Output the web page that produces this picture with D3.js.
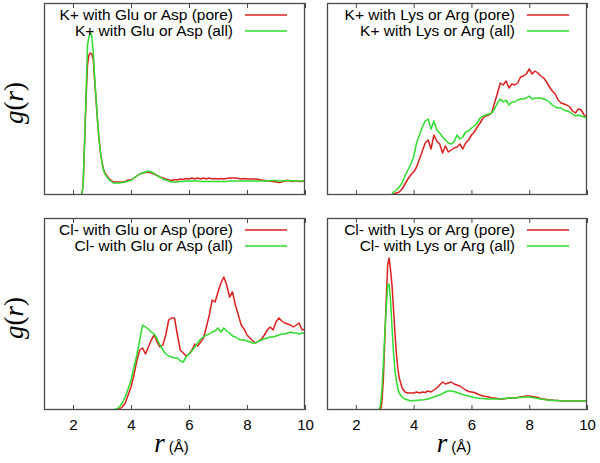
<!DOCTYPE html>
<html><head><meta charset="utf-8">
<script src="https://cdn.jsdelivr.net/npm/d3@7/dist/d3.min.js"></script>
<style>body{margin:0;background:#fff}</style>
</head><body>
<svg id="chart" width="600" height="463"></svg>
<script>
// shared r grid (Å)
const r = [1.0,
  2.3,2.35,2.4,2.45,2.5,2.55,2.6,2.65,2.7,2.75,2.8,2.85,2.9,2.95,3.0,3.05,3.1,3.15,3.2,3.25,3.3,3.35,3.4,3.45,3.5,
  3.6,3.7,3.8,3.9,4.0,4.1,4.2,4.3,4.4,4.5,
  4.6,4.7,4.8,4.9,5.0,5.1,5.2,5.3,5.4,5.5,
  5.6,5.7,5.8,5.9,6.0,6.1,6.2,6.3,6.4,6.5,
  6.6,6.7,6.8,6.9,7.0,7.1,7.2,7.3,7.4,7.5,
  7.6,7.7,7.8,7.9,8.0,8.1,8.2,8.3,8.4,8.5,
  8.6,8.7,8.8,8.9,9.0,9.1,9.2,9.3,9.4,9.5,
  9.6,9.7,9.8,9.9,10.0];

// K+ with Glu or Asp
const kGluPore = [0,
  0,1.0,5.3,9.5,13.0,14.0,14.2,14.1,13.5,11.3,9.3,7.2,5.5,4.2,3.3,2.6,2.2,2.0,1.8,1.6,1.5,1.4,1.3,1.3,1.3,
  1.3,1.3,1.35,1.5,1.5,1.7,1.9,2.1,2.2,2.25,
  2.3,2.2,2.1,1.95,1.8,1.7,1.6,1.5,1.45,1.55,
  1.5,1.6,1.55,1.65,1.6,1.7,1.6,1.7,1.6,1.7,
  1.6,1.7,1.6,1.65,1.6,1.65,1.6,1.65,1.7,1.7,
  1.7,1.65,1.6,1.65,1.6,1.6,1.6,1.6,1.55,1.5,
  1.45,1.4,1.4,1.35,1.3,1.25,1.3,1.4,1.45,1.4,
  1.35,1.4,1.35,1.35,1.4];
const kGluAll = [0,
  0,1.0,5.5,10.0,15.0,15.8,16.2,15.9,14.2,11.6,9.5,7.3,5.6,4.2,3.2,2.5,2.1,1.9,1.7,1.5,1.4,1.3,1.2,1.2,1.2,
  1.2,1.25,1.3,1.4,1.45,1.7,1.9,2.1,2.2,2.3,
  2.4,2.3,2.15,1.95,1.8,1.6,1.5,1.4,1.3,1.3,
  1.3,1.35,1.35,1.4,1.4,1.4,1.4,1.4,1.35,1.35,
  1.35,1.35,1.35,1.35,1.35,1.35,1.35,1.35,1.4,1.4,
  1.4,1.4,1.4,1.4,1.4,1.4,1.4,1.4,1.4,1.4,
  1.4,1.4,1.45,1.45,1.45,1.4,1.4,1.45,1.45,1.45,
  1.4,1.4,1.4,1.4,1.4];

// K+ with Lys or Arg
const kLysPore = [0,
  0,0,0,0,0,0,0,0,0,0,0,0,0,0,0,0,0,0,0,0,0.1,0.15,0.2,0.25,0.3,
  0.6,1.1,1.6,2.0,2.3,2.8,3.6,4.4,5.2,5.5,
  4.6,6.0,5.4,5.1,4.2,4.9,4.3,4.5,4.7,4.8,
  5.1,4.6,5.2,5.5,6.0,6.3,6.8,7.2,7.7,7.9,
  8.0,8.2,9.2,10.2,11.2,11.0,11.4,10.7,11.1,11.0,
  11.2,11.8,11.9,12.1,12.6,12.1,12.4,12.2,11.9,11.7,
  11.3,10.8,10.4,10.1,9.5,9.2,9.1,9.0,8.8,8.4,
  8.2,8.6,8.5,8.0,7.8];
const kLysAll = [0,
  0,0,0,0,0,0,0,0,0,0,0,0,0,0,0,0,0,0,0,0.05,0.3,0.4,0.5,0.65,0.8,
  1.2,1.9,2.5,3.1,3.8,5.2,6.0,6.8,7.4,7.6,
  6.6,7.4,6.5,6.2,5.8,5.5,5.2,5.1,5.3,6.0,
  5.6,5.8,6.3,6.4,6.7,6.9,7.2,7.7,7.9,8.0,
  8.1,8.2,8.6,9.2,9.6,9.3,9.5,9.0,9.3,9.3,
  9.5,9.6,9.6,9.7,9.9,9.6,9.7,9.7,9.7,9.6,
  9.5,9.3,9.0,8.8,8.7,8.7,8.5,8.4,8.3,8.1,
  7.9,8.0,7.9,7.8,7.7];

// Cl- with Glu or Asp
const clGluPore = [0,
  0,0,0,0,0,0,0,0,0,0,0,0,0,0,0,0,0,0,0,0,0,0,0,0.02,0.05,
  0.1,0.3,0.7,1.5,2.3,3.5,4.9,6.0,6.2,5.6,
  6.3,7.0,7.5,6.8,6.3,6.5,7.5,9.0,9.2,9.2,
  7.5,6.0,5.7,5.4,5.6,6.0,6.6,6.4,6.8,7.2,
  8.3,9.5,11.0,10.8,11.8,12.7,13.3,12.5,11.3,11.8,
  10.5,9.5,8.5,8.1,7.5,7.2,6.9,6.7,6.9,7.1,
  7.5,8.0,8.3,8.0,8.8,9.2,8.9,8.7,8.6,8.5,
  8.3,8.5,8.7,8.0,8.1];
const clGluAll = [0,
  0,0,0,0,0,0,0,0,0,0,0,0,0,0,0,0,0,0,0,0,0,0.03,0.05,0.08,0.1,
  0.3,0.7,1.3,2.1,3.0,4.2,5.5,7.0,8.5,8.3,
  8.1,7.8,7.6,7.1,6.5,6.0,5.6,5.4,5.3,5.2,
  5.2,4.9,4.8,5.3,5.6,5.9,6.3,6.7,7.1,7.3,
  7.5,7.6,7.8,7.9,8.2,7.8,8.2,7.9,7.7,7.4,
  7.3,7.1,7.0,7.0,6.9,6.8,6.7,6.7,6.9,7.0,
  7.1,7.2,7.3,7.3,7.4,7.5,7.6,7.6,7.7,7.8,
  7.7,7.7,7.6,7.7,7.7];

// Cl- with Lys or Arg
const clLysPore = [0,
  0,0,0,0,0,0,0,0,0,0,0,0,0.8,3.0,7.0,11.0,14.5,15.2,14.0,12.5,10.2,7.8,5.7,4.2,3.2,
  2.2,1.8,1.7,1.7,1.7,1.8,1.7,1.8,1.75,1.9,
  1.8,2.0,2.2,2.5,2.8,2.6,2.7,2.8,2.6,2.5,
  2.4,2.2,2.0,1.85,1.8,1.75,1.6,1.5,1.4,1.35,
  1.3,1.2,1.2,1.15,1.1,1.1,1.15,1.2,1.2,1.2,
  1.25,1.3,1.35,1.4,1.4,1.35,1.3,1.25,1.15,1.1,
  1.05,1.0,1.0,0.95,0.95,0.9,0.9,0.9,0.9,0.9,
  0.9,0.9,0.9,0.9,0.9];
const clLysAll = [0,
  0,0,0,0,0,0,0,0,0,0,0,0.5,2.0,4.6,7.5,10.2,12.5,12.6,11.0,8.3,5.8,4.0,3.0,2.2,1.7,
  1.3,1.1,1.0,0.9,0.95,0.95,1.0,1.0,1.05,1.1,
  1.2,1.3,1.4,1.5,1.65,1.8,1.9,1.9,1.85,1.75,
  1.65,1.55,1.45,1.4,1.3,1.25,1.2,1.15,1.15,1.1,
  1.1,1.1,1.1,1.1,1.1,1.15,1.15,1.2,1.2,1.2,
  1.25,1.25,1.3,1.3,1.3,1.25,1.2,1.15,1.1,1.05,
  1.0,1.0,0.95,0.95,0.95,0.9,0.9,0.9,0.9,0.9,
  0.9,0.9,0.9,0.9,0.9];

const xTicks = [2, 4, 6, 8, 10];
const xDomain = [1, 10];
const yDomain = [0, 19.2];
const legendTL = ["K+ with Glu or Asp (pore)", "K+ with Glu or Asp (all)"];
const legendTR = ["K+ with Lys or Arg (pore)", "K+ with Lys or Arg (all)"];
const legendBL = ["Cl- with Glu or Asp (pore)", "Cl- with Glu or Asp (all)"];
const legendBR = ["Cl- with Lys or Arg (pore)", "Cl- with Lys or Arg (all)"];

const RED = "#dc2020", GREEN = "#2fdc2f", FRAME = "#4a4a4a";

const panels = [
  {x0: 44, x1: 305, y0: 3, y1: 195, pore: kGluPore, all: kGluAll, legend: legendTL, yLab: true, xLab: false},
  {x0: 327, x1: 587, y0: 3, y1: 195, pore: kLysPore, all: kLysAll, legend: legendTR, yLab: false, xLab: false},
  {x0: 44, x1: 305, y0: 218, y1: 410, pore: clGluPore, all: clGluAll, legend: legendBL, yLab: true, xLab: true},
  {x0: 327, x1: 587, y0: 218, y1: 410, pore: clLysPore, all: clLysAll, legend: legendBR, yLab: false, xLab: true}
];

const svg = d3.select("#chart");
const SANS = "'Liberation Sans', Arial, Helvetica, sans-serif";
const SERIF = "'Liberation Serif', 'Times New Roman', serif";

panels.forEach((p, i) => {
  const x = d3.scaleLinear().domain(xDomain).range([p.x0, p.x1]);
  const y = d3.scaleLinear().domain(yDomain).range([p.y1, p.y0]);

  const clipId = "clip" + i;
  svg.append("clipPath").attr("id", clipId).append("rect")
    .attr("x", p.x0).attr("y", p.y0).attr("width", p.x1 - p.x0).attr("height", p.y1 - p.y0);

  const line = d3.line().x((d, k) => x(r[k])).y(d => y(d));
  const g = svg.append("g").attr("clip-path", `url(#${clipId})`);
  g.append("path").datum(p.pore).attr("d", line).attr("fill", "none")
    .attr("stroke", RED).attr("stroke-width", 1.5).attr("stroke-linejoin", "round");
  g.append("path").datum(p.all).attr("d", line).attr("fill", "none")
    .attr("stroke", GREEN).attr("stroke-width", 1.5).attr("stroke-linejoin", "round");

  // bottom axis
  const bottom = svg.append("g").attr("transform", `translate(0,${p.y1})`)
    .call(d3.axisBottom(x).tickValues(xTicks).tickSizeInner(-5).tickSizeOuter(0).tickPadding(9)
      .tickFormat(p.xLab ? d3.format("d") : () => ""));
  bottom.select(".domain").remove();
  bottom.selectAll(".tick line").attr("stroke", FRAME);
  bottom.selectAll(".tick text").attr("font-family", SANS).attr("font-size", 15).attr("fill", "#000");
  // top axis (mirrored ticks)
  const top = svg.append("g").attr("transform", `translate(0,${p.y0})`)
    .call(d3.axisTop(x).tickValues(xTicks).tickSizeInner(-5).tickSizeOuter(0).tickFormat(() => ""));
  top.select(".domain").remove();
  top.selectAll(".tick line").attr("stroke", FRAME);

  // frame
  svg.append("rect").attr("x", p.x0 + 0.5).attr("y", p.y0 + 0.5)
    .attr("width", p.x1 - p.x0 - 1).attr("height", p.y1 - p.y0 - 1)
    .attr("fill", "none").attr("stroke", FRAME).attr("stroke-width", 1.3);

  // legend
  const lgX1 = p.x1 - 18, lgX0 = p.x1 - 60, txtX = p.x1 - 72;
  const rows = [{t: p.legend[0], c: RED, dy: 12}, {t: p.legend[1], c: GREEN, dy: 28}];
  rows.forEach(rw => {
    const yy = p.y0 + rw.dy;
    svg.append("text").attr("x", txtX).attr("y", yy).attr("dy", "0.35em")
      .attr("text-anchor", "end").attr("font-family", SANS).attr("font-size", 15.5)
      .attr("fill", "#000").text(rw.t);
    svg.append("line").attr("x1", lgX0).attr("x2", lgX1).attr("y1", yy).attr("y2", yy)
      .attr("stroke", rw.c).attr("stroke-width", 1.5);
  });

  // y label
  if (p.yLab) {
    const cy = (p.y0 + p.y1) / 2 + 4;
    const t = svg.append("text").attr("transform", `translate(23,${cy}) rotate(-90)`)
      .attr("text-anchor", "middle").attr("font-family", SERIF).attr("font-size", 27).attr("fill", "#000");
    t.append("tspan").attr("font-style", "italic").text("g");
    t.append("tspan").text("(");
    t.append("tspan").attr("font-style", "italic").text("r");
    t.append("tspan").text(")");
  }
  // x label
  if (p.xLab) {
    const cx = (p.x0 + p.x1) / 2 - 3;
    const t = svg.append("text").attr("x", cx).attr("y", 452)
      .attr("text-anchor", "middle").attr("fill", "#000");
    t.append("tspan").attr("font-family", SERIF).attr("font-style", "italic").attr("font-size", 27).text("r");
    t.append("tspan").attr("font-family", SANS).attr("font-size", 15).text(" (Å)");
  }
});
</script>
</body></html>
